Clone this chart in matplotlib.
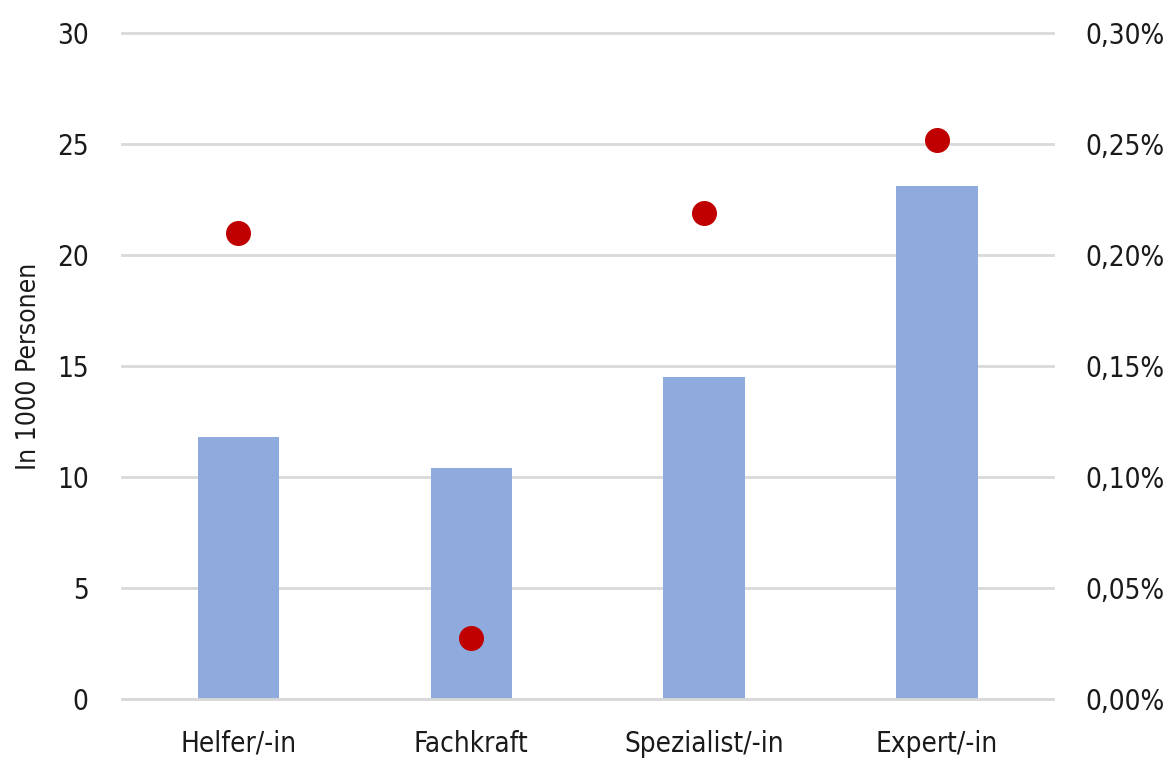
import matplotlib.pyplot as plt
from matplotlib.ticker import FuncFormatter

plt.rcParams['font.family'] = ['DejaVu Sans']
plt.rcParams['font.stretch'] = 'condensed'

categories = ["Helfer/-in", "Fachkraft", "Spezialist/-in", "Expert/-in"]
persons_thousands = [11.8, 10.4, 14.5, 23.1]
share_percent = [0.210, 0.0276, 0.219, 0.252]

left_ticks = [0, 5, 10, 15, 20, 25, 30]
right_ticks = [0.00, 0.05, 0.10, 0.15, 0.20, 0.25, 0.30]

BAR_COLOR = "#8FAADC"
DOT_COLOR = "#C00000"
GRID_COLOR = "#D9D9D9"
TEXT_COLOR = "#1A1A1A"


def main():
    fig = plt.figure(figsize=(11.73, 7.63), dpi=100)
    ax = fig.add_axes([0.104, 0.0839, 0.794, 0.8728])
    ax2 = ax.twinx()

    x = list(range(len(categories)))
    ax.bar(x, persons_thousands, width=0.35, color=BAR_COLOR, zorder=2)

    ax.set_xlim(-0.5, len(categories) - 0.5)
    ax.set_ylim(0, 30)
    ax.set_yticks(left_ticks)
    ax.yaxis.grid(True, color=GRID_COLOR, linewidth=2, zorder=0)
    ax.set_axisbelow(True)
    # keep the 0 and 30 lines at full width instead of half-clipped
    for line in ax.get_ygridlines():
        line.set_clip_on(False)
    # category axis line sits on top of the bars
    ax.axhline(0, color=GRID_COLOR, linewidth=2, zorder=3, clip_on=False)

    ax.set_xticks(x)
    ax.set_xticklabels(categories)

    for spine in ax.spines.values():
        spine.set_visible(False)
    for spine in ax2.spines.values():
        spine.set_visible(False)

    ax.tick_params(axis="both", length=0, labelsize=20, colors=TEXT_COLOR)
    ax.tick_params(axis="x", pad=22)
    ax.tick_params(axis="y", pad=24)
    ax.set_ylabel("In 1000 Personen", fontsize=19, color=TEXT_COLOR)
    ax.yaxis.set_label_coords(-0.086, 0.5)

    # percentage series on the secondary axis
    ax2.plot(x, share_percent, linestyle="none", marker="o", markersize=17,
             color=DOT_COLOR, zorder=3)
    ax2.set_ylim(0, 0.30)
    ax2.set_yticks(right_ticks)
    ax2.yaxis.set_major_formatter(
        FuncFormatter(lambda v, pos: f"{v:.2f}%".replace(".", ",")))
    ax2.tick_params(axis="y", length=0, labelsize=20, colors=TEXT_COLOR, pad=23)

    fig.savefig("out.png", dpi=100, facecolor="white")


if __name__ == '__main__':
    main()
